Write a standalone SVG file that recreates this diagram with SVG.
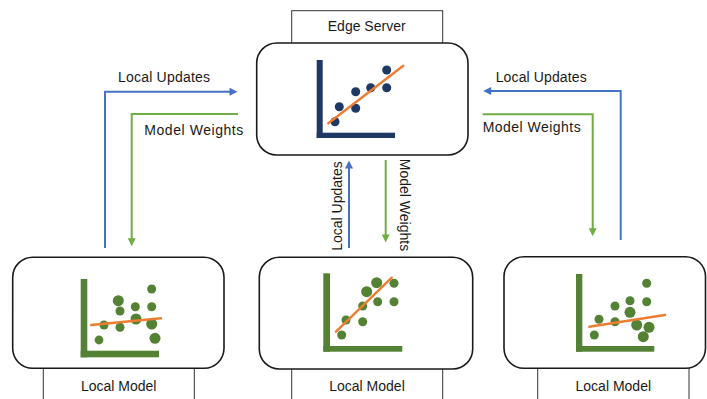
<svg xmlns="http://www.w3.org/2000/svg" width="707" height="399" viewBox="0 0 707 399">
  <style>
    .lbl { font-family: "Liberation Sans", Arial, sans-serif; font-size: 14px; fill: #1a1a1a; }
    .tab { fill: #ffffff; stroke: #333333; stroke-width: 1; }
    .card { fill: #ffffff; stroke: #1a1a1a; stroke-width: 1.6; }
    .axis-navy { fill: #203864; }
    .axis-green { fill: #548235; }
    .dot-navy { fill: #203864; }
    .dot-green { fill: #548235; }
    .fit { stroke: #ED7D31; stroke-width: 2.4; stroke-linecap: round; fill: none; }
    .up { stroke: #4472C4; stroke-width: 2; fill: none; }
    .down { stroke: #70AD47; stroke-width: 2; fill: none; }
  </style>
  <defs>
    <marker id="headBlue" viewBox="0 0 10 10" refX="5.6" refY="5" markerWidth="9" markerHeight="8" markerUnits="userSpaceOnUse" orient="auto">
      <path d="M0,0 L10,5 L0,10 Z" fill="#4472C4"/>
    </marker>
    <marker id="headGreen" viewBox="0 0 10 10" refX="5.6" refY="5" markerWidth="9" markerHeight="8" markerUnits="userSpaceOnUse" orient="auto">
      <path d="M0,0 L10,5 L0,10 Z" fill="#70AD47"/>
    </marker>
  </defs>

  <!-- Edge server -->
  <g id="edge-server">
    <rect class="tab" x="291.7" y="10.7" width="151" height="40"/>
    <text class="lbl" x="366.7" y="30.5" text-anchor="middle">Edge Server</text>
    <rect class="card" x="256.7" y="43" width="211.3" height="112" rx="20" ry="20"/>
    <rect class="axis-navy" x="316.7" y="60" width="6" height="78"/>
    <rect class="axis-navy" x="316.7" y="132.7" width="78.3" height="5.3"/>
    <circle class="dot-navy" cx="335" cy="121.7" r="4.5"/>
    <circle class="dot-navy" cx="339.3" cy="106.7" r="4.5"/>
    <circle class="dot-navy" cx="355.7" cy="91.7" r="4.5"/>
    <circle class="dot-navy" cx="355.7" cy="108.3" r="4.5"/>
    <circle class="dot-navy" cx="370.7" cy="87.7" r="4.5"/>
    <circle class="dot-navy" cx="386.7" cy="70" r="4.5"/>
    <circle class="dot-navy" cx="386.7" cy="87.7" r="4.5"/>
    <line class="fit" x1="328.3" y1="123.3" x2="403.3" y2="65.7"/>
  </g>

  <!-- Local model, left -->
  <g id="local-model-left">
    <rect class="tab" x="43.3" y="360" width="151" height="45"/>
    <text class="lbl" x="118.7" y="391" text-anchor="middle" font-size="15">Local Model</text>
    <rect class="card" x="12.7" y="257.3" width="211.3" height="111" rx="20" ry="20"/>
    <rect class="axis-green" x="80.7" y="279" width="6.6" height="78.3"/>
    <rect class="axis-green" x="80.7" y="350.7" width="78.3" height="6.6"/>
    <circle class="dot-green" cx="99" cy="340" r="4.4"/>
    <circle class="dot-green" cx="104" cy="325" r="4.5"/>
    <circle class="dot-green" cx="118.3" cy="300.7" r="5.5"/>
    <circle class="dot-green" cx="120" cy="311" r="4.5"/>
    <circle class="dot-green" cx="120" cy="327.3" r="4.5"/>
    <circle class="dot-green" cx="135.3" cy="306.7" r="4.5"/>
    <circle class="dot-green" cx="136" cy="319" r="5.5"/>
    <circle class="dot-green" cx="151.7" cy="289" r="4.5"/>
    <circle class="dot-green" cx="151.7" cy="306.7" r="4.5"/>
    <circle class="dot-green" cx="151.7" cy="324" r="5.5"/>
    <circle class="dot-green" cx="155" cy="338.3" r="5.5"/>
    <line class="fit" x1="91" y1="325" x2="161" y2="318.3"/>
  </g>

  <!-- Local model, middle -->
  <g id="local-model-middle">
    <rect class="tab" x="291.7" y="360" width="151" height="45"/>
    <text class="lbl" x="367" y="391" text-anchor="middle" font-size="15">Local Model</text>
    <rect class="card" x="259.3" y="257.3" width="213.4" height="111.7" rx="20" ry="20"/>
    <rect class="axis-green" x="323.3" y="273.3" width="6.7" height="78.4"/>
    <rect class="axis-green" x="323.3" y="346" width="79" height="5.7"/>
    <circle class="dot-green" cx="341.7" cy="335" r="4.5"/>
    <circle class="dot-green" cx="346" cy="320" r="4.5"/>
    <circle class="dot-green" cx="362.7" cy="321.7" r="4.5"/>
    <circle class="dot-green" cx="362.7" cy="306" r="4.5"/>
    <circle class="dot-green" cx="366.7" cy="291.7" r="5.5"/>
    <circle class="dot-green" cx="376.7" cy="282.7" r="5.5"/>
    <circle class="dot-green" cx="377.7" cy="301.7" r="4.5"/>
    <circle class="dot-green" cx="394" cy="283.3" r="4.5"/>
    <circle class="dot-green" cx="394" cy="301.7" r="4.5"/>
    <line class="fit" x1="336" y1="331.7" x2="391.7" y2="277.7"/>
  </g>

  <!-- Local model, right -->
  <g id="local-model-right">
    <rect class="tab" x="537.7" y="360" width="151.3" height="45"/>
    <text class="lbl" x="613.3" y="391" text-anchor="middle" font-size="15">Local Model</text>
    <rect class="card" x="504" y="256.7" width="201.5" height="111.6" rx="20" ry="20"/>
    <rect class="axis-green" x="576" y="274" width="6.3" height="77.7"/>
    <rect class="axis-green" x="576" y="346" width="78.3" height="5.7"/>
    <circle class="dot-green" cx="594.3" cy="335" r="4.5"/>
    <circle class="dot-green" cx="599" cy="319.3" r="4.5"/>
    <circle class="dot-green" cx="615" cy="306" r="4.5"/>
    <circle class="dot-green" cx="615" cy="321.7" r="4.5"/>
    <circle class="dot-green" cx="630" cy="300.7" r="4.5"/>
    <circle class="dot-green" cx="630" cy="312.3" r="5.5"/>
    <circle class="dot-green" cx="636.7" cy="325" r="5.5"/>
    <circle class="dot-green" cx="646.7" cy="283.3" r="4.5"/>
    <circle class="dot-green" cx="646.7" cy="301.7" r="4.5"/>
    <circle class="dot-green" cx="649" cy="327.3" r="5.5"/>
    <circle class="dot-green" cx="643.3" cy="336.7" r="5.5"/>
    <line class="fit" x1="589.3" y1="326.7" x2="665" y2="315"/>
  </g>

  <!-- Update / weight exchange -->
  <g id="connectors">
    <path class="up" d="M105,248 V91.7 H234" marker-end="url(#headBlue)"/>
    <path class="down" d="M238,114 H131.7 V242.7" marker-end="url(#headGreen)"/>
    <path class="up" d="M620.7,240 V91 H486.7" marker-end="url(#headBlue)"/>
    <path class="down" d="M482.7,114.3 H592.7 V232.7" marker-end="url(#headGreen)"/>
    <path class="up" d="M349,248 V164" marker-end="url(#headBlue)"/>
    <path class="down" d="M385.7,160 V239" marker-end="url(#headGreen)"/>

    <text class="lbl" x="118" y="81.5" textLength="92" lengthAdjust="spacing">Local Updates</text>
    <text class="lbl" x="144.3" y="134.5" textLength="99" lengthAdjust="spacing">Model Weights</text>
    <text class="lbl" x="495.7" y="82" textLength="91" lengthAdjust="spacing">Local Updates</text>
    <text class="lbl" x="482.7" y="131.5" textLength="98" lengthAdjust="spacing">Model Weights</text>
    <text class="lbl" transform="translate(342,206) rotate(-90)" text-anchor="middle">Local Updates</text>
    <text class="lbl" transform="translate(399.5,205) rotate(90)" text-anchor="middle">Model Weights</text>
  </g>
</svg>
